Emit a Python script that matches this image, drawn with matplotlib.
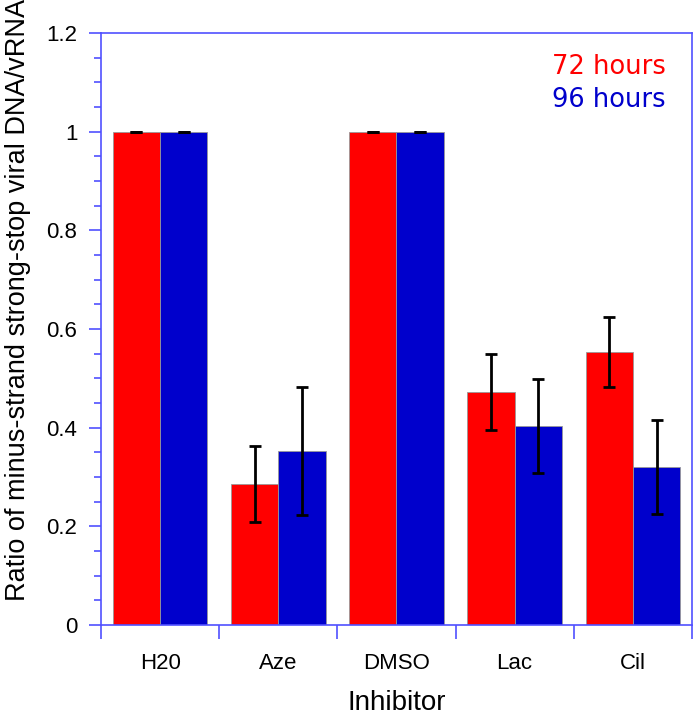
import matplotlib.pyplot as plt
import numpy as np
from matplotlib.ticker import MultipleLocator

plt.rcParams['font.family'] = ['Liberation Sans', 'DejaVu Sans']

inhibitors = ['H20', 'Aze', 'DMSO', 'Lac', 'Cil']
ratio_72 = [1.0, 0.286, 1.0, 0.473, 0.553]
err_72 = [0.0, 0.077, 0.0, 0.077, 0.071]
ratio_96 = [1.0, 0.353, 1.0, 0.403, 0.320]
err_96 = [0.0, 0.130, 0.0, 0.095, 0.096]

spine_color = '#5050ff'
red = '#ff0000'
blue = '#0000cc'

fig = plt.figure(figsize=(6.94, 7.17), dpi=100)
ax = fig.add_axes([0.1455, 0.1283, 0.8516, 0.8257])

x = np.arange(len(inhibitors)) + 0.5
w = 0.4
ax.bar(x - w / 2, ratio_72, w, color=red, edgecolor='#999999', linewidth=0.6)
ax.bar(x + w / 2, ratio_96, w, color=blue, edgecolor='#999999', linewidth=0.6)
ax.errorbar(x - w / 2, ratio_72, yerr=err_72, fmt='none', ecolor='black',
            elinewidth=2, capsize=4, capthick=2)
ax.errorbar(x + w / 2, ratio_96, yerr=err_96, fmt='none', ecolor='black',
            elinewidth=2, capsize=4, capthick=2)

ax.set_xlim(0, len(inhibitors))
ax.set_ylim(0, 1.2)
ax.set_xticks(np.arange(len(inhibitors) + 1))
ax.set_xticklabels([])
ax.set_xticks(x, minor=True)
ax.set_xticklabels(inhibitors, minor=True, fontsize=16)
ax.tick_params(axis='x', which='minor', length=0, pad=20)
ax.tick_params(axis='x', which='major', length=10, width=1.2, color=spine_color)

ax.yaxis.set_minor_locator(MultipleLocator(0.05))
ax.set_yticks([0, 0.2, 0.4, 0.6, 0.8, 1.0, 1.2])
ax.set_yticklabels(['0', '0.2', '0.4', '0.6', '0.8', '1', '1.2'], fontsize=16)
ax.tick_params(axis='y', which='major', length=9, width=1.2, color=spine_color, pad=8)
ax.tick_params(axis='y', which='minor', length=5, width=1.2, color=spine_color)

for s in ax.spines.values():
    s.set_color(spine_color)
    s.set_linewidth(1.2)

ax.set_ylabel('Ratio of minus-strand strong-stop viral DNA/vRNA', fontsize=19.5)
ax.yaxis.set_label_coords(-0.118, 0.549)
ax.set_xlabel('Inhibitor', fontsize=20, labelpad=12)

ax.text(0.956, 0.9426, '72 hours', color=red, fontsize=18.5, ha='right', va='center',
        transform=ax.transAxes, family='DejaVu Sans')
ax.text(0.956, 0.887, '96 hours', color=blue, fontsize=18.5, ha='right', va='center',
        transform=ax.transAxes, family='DejaVu Sans')

fig.savefig('out.png', dpi=100)
